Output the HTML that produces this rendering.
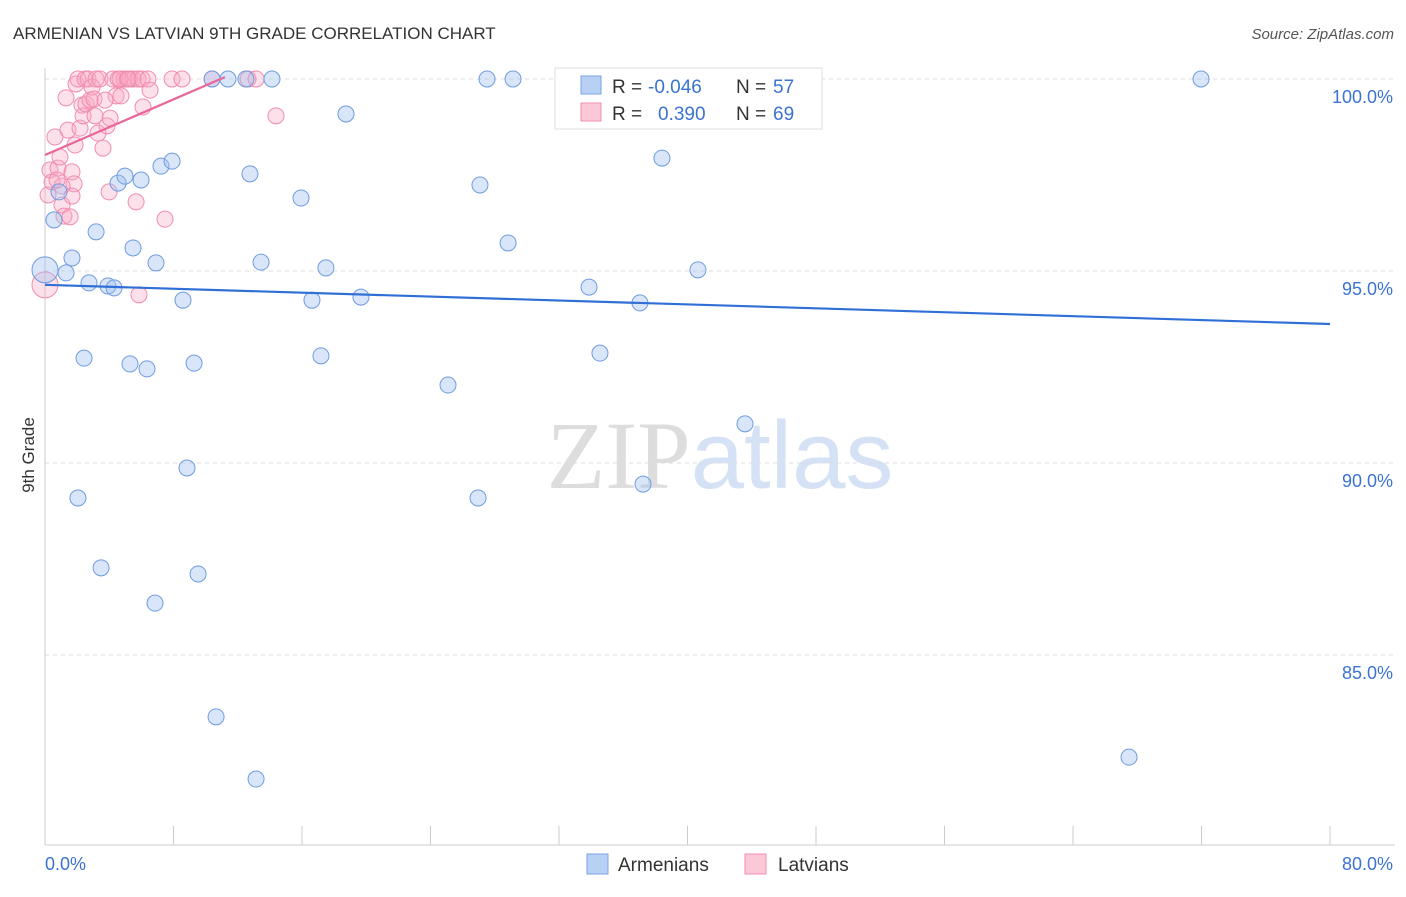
<!DOCTYPE html>
<html><head><meta charset="utf-8">
<style>
body{margin:0;background:#fff;font-family:"Liberation Sans",sans-serif;}
svg text{font-family:"Liberation Sans",sans-serif;}
</style></head>
<body>
<svg id="chart" width="1406" height="892" xmlns="http://www.w3.org/2000/svg">
<text x="13" y="39" font-size="17" fill="#333">ARMENIAN VS LATVIAN 9TH GRADE CORRELATION CHART</text>
<text x="1394" y="39" font-size="15" fill="#555" text-anchor="end" font-style="italic">Source: ZipAtlas.com</text>
<text x="720" y="488" font-size="96" text-anchor="middle"><tspan fill="#ddd" font-family="Liberation Serif">ZIP</tspan><tspan fill="#d5e2f5">atlas</tspan></text>
<g id="grid"></g>
<g id="axes"></g>
<g id="marks"></g>
<text transform="translate(34,455) rotate(-90)" font-size="17" fill="#333" text-anchor="middle">9th Grade</text>
<g>
<rect x="555" y="68" width="267" height="61" fill="#fff" stroke="#ddd"/>
<rect x="581" y="76" width="20" height="18" fill="#b9d0f5" stroke="#7aa3e5"/>
<rect x="581" y="103" width="20" height="18" fill="#fcc8d8" stroke="#f08cb0"/>
<text x="612" y="93" font-size="19" fill="#333">R =</text>
<text x="648" y="93" font-size="19" fill="#3b73d1">-0.046</text>
<text x="736" y="93" font-size="19" fill="#333">N =</text>
<text x="773" y="93" font-size="19" fill="#3b73d1">57</text>
<text x="612" y="120" font-size="19" fill="#333">R =</text>
<text x="658" y="120" font-size="19" fill="#3b73d1">0.390</text>
<text x="736" y="120" font-size="19" fill="#333">N =</text>
<text x="773" y="120" font-size="19" fill="#3b73d1">69</text>
</g>
<g>
<rect x="587" y="854" width="21" height="20" fill="#b9d0f5" stroke="#7aa3e5"/>
<text x="618" y="871" font-size="19" fill="#333">Armenians</text>
<rect x="745" y="854" width="21" height="20" fill="#fcc8d8" stroke="#f08cb0"/>
<text x="778" y="871" font-size="19" fill="#333">Latvians</text>
</g>
</svg>
<script>
const yTicks=[100,95,90,85];
const yTickLabels=["100.0%","95.0%","90.0%","85.0%"];
const xTicks=[0,8,16,24,32,40,48,56,64,72,80];
const blueX=[0,0.56,0.87,1.31,1.68,2.05,2.43,2.74,3.18,3.49,3.92,4.30,4.55,4.98,5.29,5.48,5.98,6.35,6.85,6.91,7.22,7.91,8.59,8.84,9.28,9.53,10.40,10.65,11.39,12.51,12.76,13.14,13.45,14.13,15.94,16.62,17.18,17.49,18.74,19.67,25.09,26.96,27.08,27.52,28.83,29.14,32.75,33.87,34.55,37.04,37.23,38.41,40.65,43.58,67.49,71.97];
const blueY=[95.03,96.33,97.06,94.95,95.34,89.09,92.73,94.69,96.02,87.27,94.61,94.56,97.29,97.47,92.58,95.60,97.37,92.45,86.35,95.21,97.73,97.86,94.24,89.87,92.60,87.11,100,83.39,100,100,97.53,81.77,95.23,100,96.90,94.24,92.79,95.08,99.09,94.32,92.03,89.09,97.24,100,95.73,100,100,94.58,92.86,94.17,89.45,97.94,95.03,91.02,82.34,100];
const pinkX=[0,0.19,0.31,0.44,0.62,0.81,0.93,1.06,1.18,1.31,1.43,1.56,1.68,1.81,1.87,1.93,2.05,2.18,2.30,2.37,2.49,2.55,2.68,2.80,2.93,3.05,3.18,3.30,3.42,3.61,3.86,3.99,4.05,4.23,4.42,4.55,4.73,4.92,5.11,5.29,5.48,5.67,5.79,5.85,6.04,6.10,6.41,6.54,7.47,7.91,8.53,10.40,12.64,13.14,14.38,1.06,0.75,1.68,3.11,3.74,4.67,5.17];
const pinkY=[94.64,96.98,97.63,97.32,98.49,97.68,97.97,96.72,96.43,99.51,98.67,96.41,97.58,97.27,98.28,99.87,100,98.72,99.32,99.04,100,99.35,100,99.45,99.79,99.48,100,98.59,100,98.20,98.78,97.06,98.98,100,99.56,100,99.56,100,100,100,100,96.80,100,94.38,100,99.27,100,99.71,96.35,100,100,100,100,100,99.04,97.21,97.37,96.95,99.04,99.45,100,100];
const blueTrend=[[0,94.64],[80,93.62]];
const pinkTrend=[[0,98.02],[11.2,100.05]];
const NS="http://www.w3.org/2000/svg";
const xs=v=>45+v*(1285/80);
const ys=v=>79+(100-v)*38.4;
function mk(t,a,p){const e=document.createElementNS(NS,t);for(const k in a)e.setAttribute(k,a[k]);p.appendChild(e);return e;}
const grid=document.getElementById('grid'),axes=document.getElementById('axes'),marks=document.getElementById('marks');
yTicks.forEach((t,i)=>{
 const l=mk('line',{x1:45,x2:1395,y1:ys(t),y2:ys(t),stroke:'#ddd','stroke-dasharray':'4,4'},grid);
 
 
 const tx=mk('text',{x:1393,y:ys(t)+24,'font-size':18,fill:'#3b73d1','text-anchor':'end'},axes);
 tx.textContent=yTickLabels[i];
 
 
});
const ax=mk('line',{x1:45,x2:45,y1:68,y2:845,stroke:'#ccc'},axes);


const bx=mk('line',{x1:45,x2:1395,y1:845,y2:845,stroke:'#ccc'},axes);


xTicks.forEach(t=>{
 const l=mk('line',{x1:xs(t),x2:xs(t),y1:826,y2:845,stroke:'#ccc'},axes);
 
 
});
const x0=mk('text',{x:45,y:870,'font-size':18,fill:'#3b73d1'},axes);x0.textContent='0.0%';


const x1=mk('text',{x:1393,y:870,'font-size':18,fill:'#3b73d1','text-anchor':'end'},axes);x1.textContent='80.0%';


function pts(X,Y,fill,stroke,name){
 X.forEach((x,i)=>{
  const r=(i===0)?13:8;
  const c=mk('circle',{cx:xs(x),cy:ys(Y[i]),r:r,fill:fill,stroke:stroke,'stroke-width':1},marks);
  
  
 });
}
pts(pinkX,pinkY,'rgba(248,170,195,0.35)','#f08cb0','latvian-point');
pts(blueX,blueY,'rgba(160,192,240,0.4)','#6f9be0','armenian-point');
const bl=mk('line',{x1:xs(blueTrend[0][0]),y1:ys(blueTrend[0][1]),x2:xs(blueTrend[1][0]),y2:ys(blueTrend[1][1]),stroke:'#2f6fd6','stroke-width':2.2},marks);


const pl=mk('line',{x1:xs(pinkTrend[0][0]),y1:ys(pinkTrend[0][1]),x2:xs(pinkTrend[1][0]),y2:ys(pinkTrend[1][1]),stroke:'#e8679a','stroke-width':2.2},marks);


</script>
</body></html>
